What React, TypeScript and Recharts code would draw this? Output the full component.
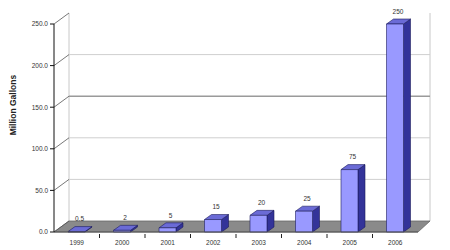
import { BarChart, Bar, XAxis, YAxis, CartesianGrid, LabelList, Label } from 'recharts';

const years = ['1999', '2000', '2001', '2002', '2003', '2004', '2005', '2006'];
const gallons = [0.5, 2, 5, 15, 20, 25, 75, 250];
const yTicks = [0, 50, 100, 150, 200, 250];

const data = years.map((year, i) => ({ year, gallons: gallons[i] }));

// 3d depth of the back wall and of each bar
const WALL_DX = 15;
const WALL_DX_R = 12;
const WALL_DY = 11;
const BAR_DX = 7;
const BAR_DY = 5;

const FONT = '"Liberation Sans", Arial, sans-serif';

function Bar3D(props: any) {
  const { x, y, width: w, height: h } = props;
  if (x == null || y == null) return null;
  return (
    <g stroke="#1c1c5c" strokeWidth={0.6} strokeLinejoin="round">
      <polygon
        points={`${x + w},${y} ${x + w + BAR_DX},${y - BAR_DY} ${x + w + BAR_DX},${y + h - BAR_DY} ${x + w},${y + h}`}
        fill="#333399"
      />
      <polygon
        points={`${x},${y} ${x + BAR_DX},${y - BAR_DY} ${x + w + BAR_DX},${y - BAR_DY} ${x + w},${y}`}
        fill="#6b6bd6"
      />
      <rect x={x} y={y} width={w} height={h} fill="#9999ff" />
    </g>
  );
}

// floor plane and back wall edges, hung on the 0 grid line
function floorLine(p: any) {
  const { x1, y1, x2 } = p;
  const top = p.y ?? 25;
  return (
    <g key={p.key}>
      <line x1={x1 + WALL_DX} y1={top - WALL_DY} x2={x1 + WALL_DX} y2={y1 - WALL_DY} stroke="#c8c8c8" />
      <line x1={x2 + WALL_DX_R} y1={top - WALL_DY} x2={x2 + WALL_DX_R} y2={y1 - WALL_DY} stroke="#c8c8c8" />
      <polygon
        points={`${x1},${y1} ${x1 + WALL_DX},${y1 - WALL_DY} ${x2 + WALL_DX_R},${y1 - WALL_DY} ${x2},${y1}`}
        fill="#8a8a8a"
        stroke="#666"
        strokeWidth={0.8}
      />
    </g>
  );
}

function wallLine(color: string, sw: number) {
  return (p: any) => (
    <line
      key={p.key}
      x1={p.x1 + WALL_DX}
      y1={p.y1 - WALL_DY}
      x2={p.x2 + WALL_DX_R}
      y2={p.y1 - WALL_DY}
      stroke={color}
      strokeWidth={sw}
    />
  );
}

function slantTick(p: any) {
  return (
    <line key={p.key} x1={p.x1} y1={p.y1} x2={p.x1 + WALL_DX} y2={p.y1 - WALL_DY} stroke="#555" strokeWidth={0.8} />
  );
}

function YearTick(props: any) {
  const { x, y, payload, index } = props;
  const half = payload?.offset ?? 22.75;
  return (
    <g>
      {index > 0 && <line x1={x - half} y1={y} x2={x - half} y2={y + 4} stroke="#222" />}
      <text x={x} y={y + 11} textAnchor="middle" fontSize={6.5} fill="#333" fontFamily={FONT}>
        {payload.value}
      </text>
    </g>
  );
}

function ValueLabel(props: any) {
  const { x, y, width, value } = props;
  return (
    <text
      x={x + width / 2 + 3}
      y={y - 12}
      textAnchor="middle"
      dominantBaseline="middle"
      fontSize={6.5}
      fill="#333"
      fontFamily={FONT}
    >
      {value}
    </text>
  );
}

function AxisTitle(props: any) {
  const vb = props.viewBox || { x: 0, y: 25, height: 207 };
  const cx = vb.x + 14;
  const cy = vb.y + vb.height * 0.39;
  return (
    <text
      x={cx}
      y={cy}
      transform={`rotate(-90, ${cx}, ${cy})`}
      textAnchor="middle"
      dominantBaseline="middle"
      fontSize={8.5}
      fontWeight="bold"
      fill="#222"
      fontFamily={FONT}
    >
      Million Gallons
    </text>
  );
}

export default function App() {
  return (
    <div style={{ position: 'absolute', left: 0, top: 0, width: 450, height: 250, background: '#fff' }}>
      <BarChart width={450} height={250} data={data} margin={{ top: 24, right: 32, bottom: 2, left: 0 }}>
        <CartesianGrid vertical={false} horizontalValues={[0]} horizontal={floorLine} />
        <CartesianGrid vertical={false} horizontalValues={[50, 100, 200]} horizontal={wallLine('#cfcfcf', 1)} />
        <CartesianGrid vertical={false} horizontalValues={[150]} horizontal={wallLine('#9a9a9a', 1.6)} />
        <CartesianGrid vertical={false} horizontalValues={yTicks} horizontal={slantTick} />
        <XAxis
          dataKey="year"
          height={16}
          tickSize={0}
          tickLine={false}
          axisLine={{ stroke: '#555' }}
          tick={<YearTick />}
          interval={0}
        />
        <YAxis
          width={54}
          domain={[0, 250]}
          ticks={yTicks}
          tickFormatter={(v: number) => v.toFixed(1)}
          tick={{ fontSize: 6.5, fill: '#333', fontFamily: FONT }}
          tickSize={4}
          tickLine={{ stroke: '#111' }}
          axisLine={{ stroke: '#111' }}
        >
          <Label content={<AxisTitle />} />
        </YAxis>
        <Bar dataKey="gallons" barSize={17} shape={<Bar3D />} isAnimationActive={false}>
          <LabelList dataKey="gallons" content={<ValueLabel />} />
        </Bar>
      </BarChart>
    </div>
  );
}
